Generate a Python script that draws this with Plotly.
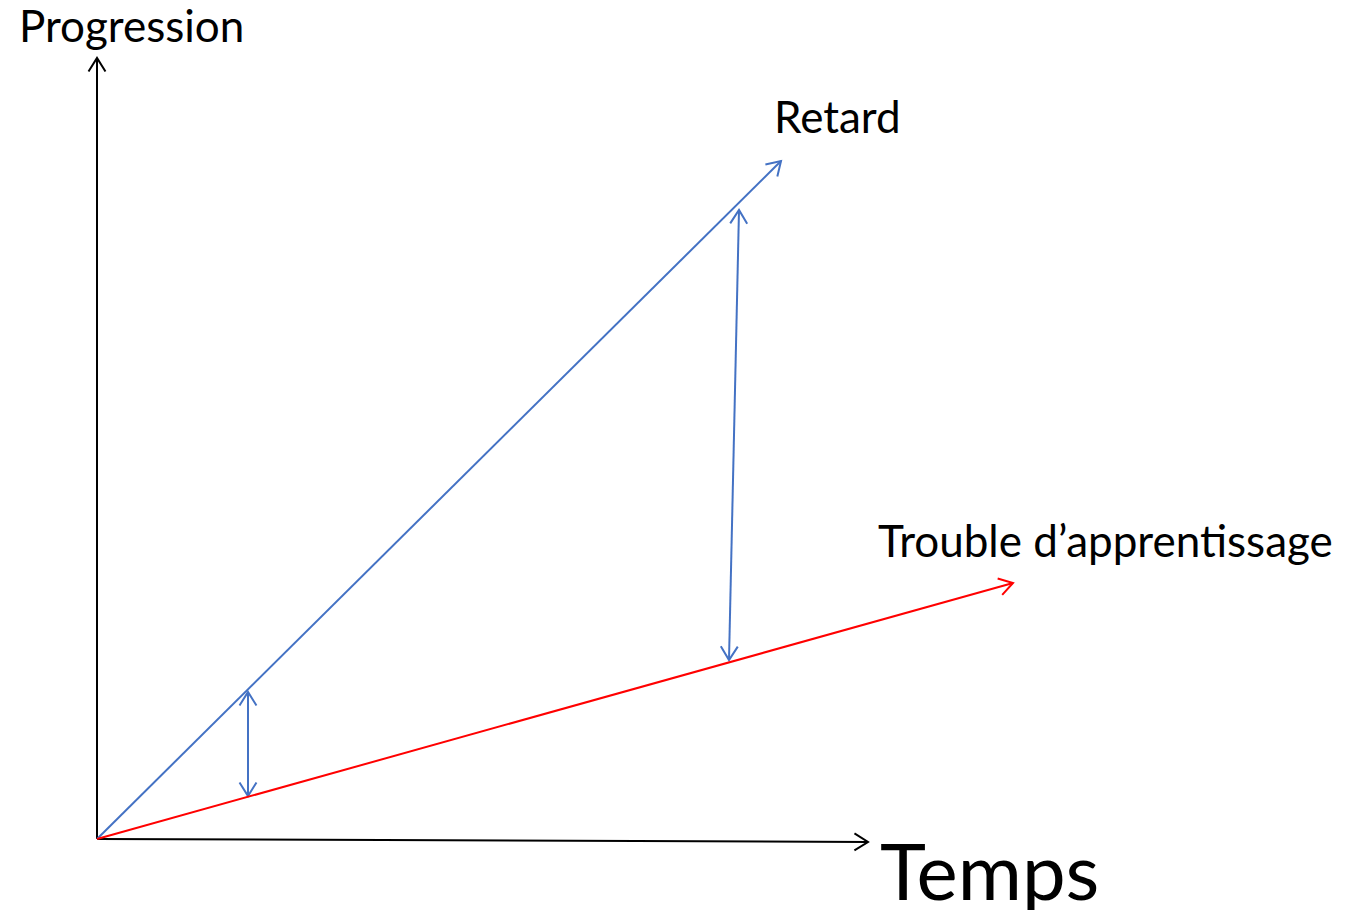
import numpy as np
import plotly.graph_objects as go

# diagram values (1 unit = 1 px, origin at the axes corner)
axis_t = [0, 771]
axis_t_p = [0, -3]
axis_p_t = [0, 0]
axis_p = [0, 781]

retard_t = [0, 684]
retard_p = [0, 678]

trouble_t = [0, 916]
trouble_p = [0, 256]

gap1_t = [151, 151]
gap1_p = [43, 147]
gap2_t = [632, 642]
gap2_p = [179, 629]

labels = ["Progression", "Retard", "Trouble d\u2019apprentissage", "Temps"]
label_t = [-80, 675, 779, 781]
label_p = [814, 723, 299, -31]
label_size = [44, 44, 44, 78]

BLUE = "#4472C4"
RED = "#FF0000"
BLACK = "#000000"


def head(t, p, length=16, angle=32):
    """open chevron at the end (t[1], p[1]) of a segment"""
    d = np.array([t[0] - t[1], p[0] - p[1]], dtype=float)
    d /= np.linalg.norm(d)
    xs, ys = [], []
    for sgn in (1, -1):
        a = np.radians(angle) * sgn
        r = np.array([d[0] * np.cos(a) - d[1] * np.sin(a),
                      d[0] * np.sin(a) + d[1] * np.cos(a)])
        xs.append(t[1] + r[0] * length)
        ys.append(p[1] + r[1] * length)
    # V shape: arm1 -> tip -> arm2
    return [xs[0], t[1], xs[1]], [ys[0], p[1], ys[1]]


fig = go.Figure()


def arrow(t, p, color, both=False):
    fig.add_trace(go.Scatter(x=t, y=p, mode="lines",
                             line=dict(color=color, width=2), hoverinfo="skip"))
    hx, hy = head(t, p)
    fig.add_trace(go.Scatter(x=hx, y=hy, mode="lines",
                             line=dict(color=color, width=2), hoverinfo="skip"))
    if both:
        hx, hy = head(t[::-1], p[::-1])
        fig.add_trace(go.Scatter(x=hx, y=hy, mode="lines",
                                 line=dict(color=color, width=2), hoverinfo="skip"))


arrow(axis_p_t, axis_p, BLACK)
arrow(axis_t, axis_t_p, BLACK)
arrow(retard_t, retard_p, BLUE)
arrow(gap1_t, gap1_p, BLUE, both=True)
arrow(gap2_t, gap2_p, BLUE, both=True)
arrow(trouble_t, trouble_p, RED)

for txt, tx, ty, sz in zip(labels, label_t, label_p, label_size):
    fig.add_annotation(x=tx, y=ty, text=txt, showarrow=False,
                       xanchor="left", yanchor="middle",
                       font=dict(family="Lato, sans-serif", size=sz, color=BLACK))

# page body has an 8px margin, so the figure is 8px smaller each way
fig.update_layout(
    width=1357, height=902,
    margin=dict(l=0, r=0, t=0, b=0),
    paper_bgcolor="white", plot_bgcolor="white",
    showlegend=False,
    xaxis=dict(range=[-89, 1268], visible=False, fixedrange=True),
    yaxis=dict(range=[-71, 831], visible=False, fixedrange=True),
)

fig.write_html("out.html")
